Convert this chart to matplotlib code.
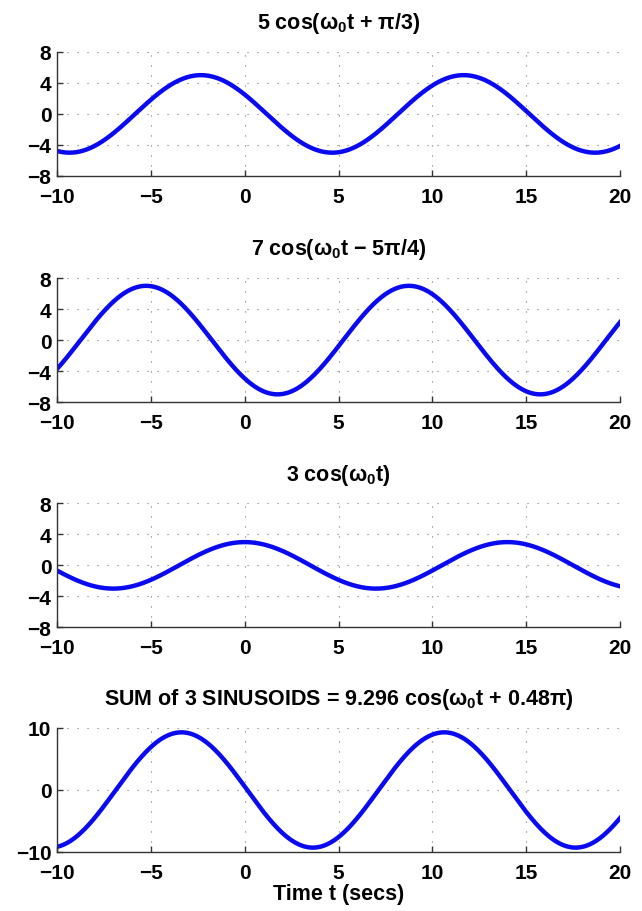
import numpy as np
import matplotlib.pyplot as plt

plt.rcParams['font.family'] = ['Liberation Sans', 'DejaVu Sans']
plt.rcParams['font.weight'] = 'bold'
plt.rcParams['mathtext.fontset'] = 'custom'
plt.rcParams['mathtext.rm'] = 'Liberation Sans:bold'
plt.rcParams['mathtext.it'] = 'Liberation Sans:bold'
plt.rcParams['mathtext.bf'] = 'Liberation Sans:bold'

# sinusoid parameters read from the titles
amplitudes = [5, 7, 3]
phases = [np.pi / 3, -5 * np.pi / 4, 0.0]
period = 14.0
titles = [r'5 cos($\omega_0$t + π/3)',
          r'7 cos($\omega_0$t − 5π/4)',
          r'3 cos($\omega_0$t)',
          r'SUM of 3 SINUSOIDS = 9.296 cos($\omega_0$t + 0.48π)']
xticks = [-10, -5, 0, 5, 10, 15, 20]
yticks_small = [-8, -4, 0, 4, 8]
yticks_sum = [-10, 0, 10]

w0 = 2 * np.pi / period
t = np.linspace(-10, 20, 1201)
curves = [A * np.cos(w0 * t + ph) for A, ph in zip(amplitudes, phases)]
curves.append(curves[0] + curves[1] + curves[2])

fig = plt.figure(figsize=(6.42, 9.12), dpi=100)
left, width, height = 0.0888, 0.877, 0.136
bottoms = [0.806, 0.558, 0.311, 0.0647]

for i, bottom in enumerate(bottoms):
    ax = fig.add_axes([left, bottom, width, height])
    ax.plot(t, curves[i], color='#0a0af0', linewidth=3.2)
    ax.set_xlim(-10, 20)
    ax.set_xticks(xticks)
    if i < 3:
        ax.set_ylim(-8, 8)
        ax.set_yticks(yticks_small)
    else:
        ax.set_ylim(-10, 10)
        ax.set_yticks(yticks_sum)
    ax.grid(True, linestyle=(0, (1, 8)), color='#777777', linewidth=0.8)
    ax.spines['top'].set_visible(False)
    ax.spines['right'].set_visible(False)
    for sp in ('left', 'bottom'):
        ax.spines[sp].set_linewidth(1.0)
        ax.spines[sp].set_color('#333333')
    ax.tick_params(direction='in', labelsize=15, length=4, width=1,
                   color='#333333')
    ax.tick_params(axis='x', pad=8)
    ax.tick_params(axis='y', pad=4)
    for lab in ax.get_xticklabels() + ax.get_yticklabels():
        lab.set_fontweight('bold')
    ax.set_title(titles[i], fontsize=15.5, fontweight='bold', pad=17)

ax.set_xlabel('Time t (secs)', fontsize=15.5, fontweight='bold', labelpad=1)

fig.savefig('out.png', dpi=100)
